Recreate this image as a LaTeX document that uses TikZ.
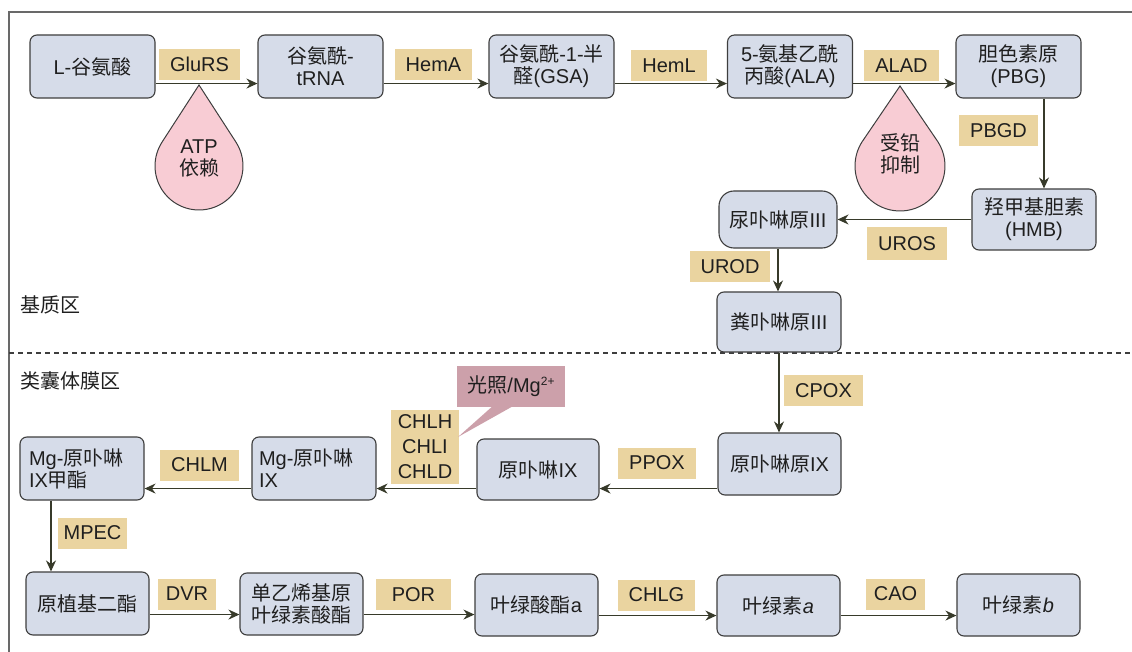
\documentclass[tikz,border=0pt]{standalone}
\usepackage{fontspec}
\setmainfont{Liberation Sans}
\newfontfamily\cjk{Noto Sans CJK SC}
\usepackage{tikz}
\usetikzlibrary{arrows.meta}
\usetikzlibrary{positioning,calc}
\definecolor{stagefill}{RGB}{214,220,233}
\definecolor{stagedraw}{RGB}{62,62,62}
\definecolor{enzfill}{RGB}{234,212,160}
\definecolor{dropfill}{RGB}{248,204,212}
\definecolor{calloutfill}{RGB}{204,160,170}
\definecolor{flowgray}{RGB}{55,58,42}
\definecolor{framegray}{RGB}{105,105,105}
\newcommand{\zh}[1]{{\cjk #1}}

\begin{document}
\begin{tikzpicture}[x=1pt,y=-1pt,
    every node/.style={font=\fontsize{20}{22}\selectfont,text=black!88},
    stage/.style={draw=stagedraw,fill=stagefill,rounded corners=7pt,line width=1.1pt,
      minimum width=124pt,minimum height=62pt,align=center,inner sep=2pt},
    enzyme/.style={fill=enzfill,inner xsep=11pt,inner ysep=2pt,minimum height=31pt,align=center},
    flow/.style={draw=flowgray,line width=1.2pt,-{Stealth[length=11pt,width=10pt]}},
    drop/.style={draw=stagedraw,fill=dropfill,line width=1pt}]
    \useasboundingbox (0,0) rectangle (1132,652);
    % frame and the split between the two regions
    \draw[framegray,line width=1.5pt] (9,652) -- (9,12) -- (1132,12);
    \draw[stagedraw,dashed,line width=1.2pt,dash pattern=on 5pt off 4pt] (9,353) -- (1132,353);
    \node[anchor=west] (stroma) at (17,305) {\zh{基质区}};
    \node[anchor=west] (thyl) at (17,381) {\zh{类囊体膜区}};

    % drops under the first two steps
    \coordinate (atptip) at (199,85);
    \coordinate (atpc) at (199,166);
    \filldraw[drop] (atptip) -- ($(atpc)+(327.1:44)$) arc[start angle=327.1,end angle=572.9,radius=44] -- cycle;
    \node[align=center] (atp) at (199,158) {ATP\\\zh{依赖}};
    \coordinate (leadtip) at (900,86);
    \coordinate (leadc) at (900,166);
    \filldraw[drop] (leadtip) -- ($(leadc)+(328.2:45)$) arc[start angle=328.2,end angle=571.8,radius=45] -- cycle;
    \node[align=center] (lead) at (900,154) {\zh{受铅}\\\zh{抑制}};

    % top row
    \node[stage,minimum width=125pt,minimum height=63pt] (glu) at (92.5,66.5) {L-\zh{谷氨酸}};
    \node[stage,minimum width=125pt,minimum height=63pt] (trna) at (320.5,66.5) {\zh{谷氨酰}-\\tRNA};
    \node[stage,minimum width=125pt,minimum height=63pt] (gsa) at (551.5,66.5) {\zh{谷氨酰}-1-\zh{半}\\\zh{醛}(GSA)};
    \node[stage,minimum width=125pt,minimum height=63pt] (ala) at (790,66.5) {5-\zh{氨基乙酰}\\\zh{丙酸}(ALA)};
    \node[stage,minimum width=125pt,minimum height=63pt] (pbg) at (1018.5,66.5) {\zh{胆色素原}\\(PBG)};
    \node[stage,minimum height=61pt] (hmb) at (1034,219.5) {\zh{羟甲基胆素}\\(HMB)};
    \node[stage,minimum width=118pt,minimum height=57pt,rounded corners=15pt] (urogen) at (778,219.5) {\zh{尿卟啉原}III};
    \node[stage,minimum height=60pt] (coprogen) at (779,322) {\zh{粪卟啉原}III};

    % thylakoid part
    \node[stage,minimum width=123pt] (protogen) at (779.5,464) {\zh{原卟啉原}IX};
    \node[stage,minimum width=122pt,minimum height=61pt] (proto) at (538,469.5) {\zh{原卟啉}IX};
    \node[stage,minimum height=63pt,text width=110pt,align=left] (mgproto) at (314,468.5) {Mg-\zh{原卟啉}\\IX};
    \node[stage,minimum height=63pt,text width=106pt,align=left] (mgme) at (82,468.5) {Mg-\zh{原卟啉}\\IX\zh{甲酯}};
    \node[stage,minimum width=123pt,minimum height=63pt] (divinyl) at (87.5,603.5) {\zh{原植基二酯}};
    \node[stage,minimum width=123pt] (mvp) at (301.5,604) {\zh{单乙烯基原}\\\zh{叶绿素酸酯}};
    \node[stage,minimum width=123pt] (chlide) at (536.5,605) {\zh{叶绿酸酯}a};
    \node[stage,minimum width=123pt,minimum height=61pt] (chla) at (778.5,605.5) {\zh{叶绿素}\textit{a}};
    \node[stage,minimum width=123pt] (chlb) at (1018.5,605) {\zh{叶绿素}\textit{b}};

    % enzymes
    \node[enzyme] (glurs) at (199.5,64.5) {GluRS};
    \node[enzyme] (hema) at (433.5,64.5) {HemA};
    \node[enzyme] (heml) at (669,65.5) {HemL};
    \node[enzyme] (alad) at (901.5,65.5) {ALAD};
    \node[enzyme] (pbgd) at (998.5,131) {PBGD};
    \node[enzyme,minimum height=33pt] (uros) at (907,244) {UROS};
    \node[enzyme] (urod) at (730,266.5) {UROD};
    \node[enzyme] (cpox) at (823.5,390.5) {CPOX};
    \node[enzyme] (ppox) at (657,463) {PPOX};
    \node[enzyme,font=\fontsize{20}{25}\selectfont,inner xsep=7pt,minimum height=74pt] (chlh) at (425,447) {CHLH\\CHLI\\CHLD};
    \node[enzyme] (chlm) at (199.5,465) {CHLM};
    \node[enzyme,inner xsep=6pt] (mpec) at (92.5,533) {MPEC};
    \node[enzyme,inner xsep=8pt] (dvr) at (187,594) {DVR};
    \node[enzyme,inner xsep=16pt] (por) at (413.5,594.5) {POR};
    \node[enzyme] (chlg) at (656.5,595) {CHLG};
    \node[enzyme,inner xsep=8pt] (cao) at (895.5,594) {CAO};

    % light / Mg callout
    \node[fill=calloutfill,minimum width=108pt,minimum height=41pt] (light) at (511,386.5)
      {\zh{光照}/Mg\raisebox{7pt}{\fontsize{12}{12}\selectfont 2+}};
    \coordinate (lighttip) at (458,437);
    \fill[calloutfill] ([xshift=-19pt,yshift=0.5pt]light.south) -- (lighttip) -- ([xshift=1pt,yshift=0.5pt]light.south) -- cycle;

    % reactions
    \foreach \a/\b in {glu/trna,trna/gsa,gsa/ala,ala/pbg}
      \draw[flow] ([yshift=15pt]\a.south east) -- ([yshift=15pt]\b.south west);
    \draw[flow] ([xshift=25.5pt]pbg.south) coordinate (s) -- (s |- hmb.north);
    \draw[flow] (hmb.west) -- (hmb.west -| urogen.east);
    \draw[flow] (urogen.south) -- (urogen.south |- coprogen.north);
    \draw[flow] (coprogen.south) -- (coprogen.south |- protogen.north);
    \draw[flow] ([yshift=7pt]protogen.south west) coordinate (s) -- (s -| proto.east);
    \draw[flow] ([yshift=12pt]proto.south west) coordinate (s) -- (s -| mgproto.east);
    \draw[flow] ([yshift=12pt]mgproto.south west) coordinate (s) -- (s -| mgme.east);
    \draw[flow] ([xshift=-31pt]mgme.south) coordinate (s) -- (s |- divinyl.north);
    \foreach \a/\b in {divinyl/mvp,mvp/chlide,chlide/chla,chla/chlb}
      \draw[flow] ([yshift=21pt]\a.south east) coordinate (s) -- (s -| \b.west);
  \end{tikzpicture}
\end{document}
